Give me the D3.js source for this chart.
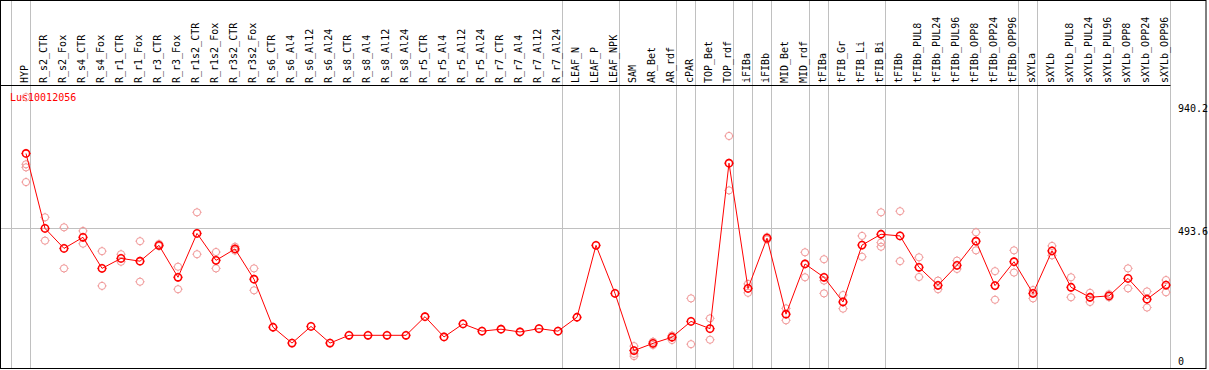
<!DOCTYPE html>
<html>
  <head>
    <title>Lus10012056</title>
    <script src="https://cdn.jsdelivr.net/npm/d3@7"></script>
    <style>
      body, html { margin: 0; padding: 0; background: #fff; }
      svg { display: block; }
      text { font-family: "DejaVu Sans Mono", monospace; font-size: 10px; }
    </style>
  </head>
  <body>
    <svg id="svg" width="1209" height="370"></svg>
    <script>
      // sample names, one column each
      const samples = ["HYP", "R_s2_CTR", "R_s2_Fox", "R_s4_CTR", "R_s4_Fox", "R_r1_CTR", "R_r1_Fox",
        "R_r3_CTR", "R_r3_Fox", "R_r1s2_CTR", "R_r1s2_Fox", "R_r3s2_CTR", "R_r3s2_Fox", "R_s6_CTR",
        "R_s6_Al4", "R_s6_Al12", "R_s6_Al24", "R_s8_CTR", "R_s8_Al4", "R_s8_Al12", "R_s8_Al24",
        "R_r5_CTR", "R_r5_Al4", "R_r5_Al12", "R_r5_Al24", "R_r7_CTR", "R_r7_Al4", "R_r7_Al12",
        "R_r7_Al24", "LEAF_N", "LEAF_P", "LEAF_NPK", "SAM", "AR_Bet", "AR_rdf", "cPAR", "TOP_Bet",
        "TOP_rdf", "iFIBa", "iFIBb", "MID_Bet", "MID_rdf", "tFIBa", "tFIB_Gr", "tFIB_Li", "tFIB_Bi",
        "tFIBb", "tFIBb_PUL8", "tFIBb_PUL24", "tFIBb_PUL96", "tFIBb_OPP8", "tFIBb_OPP24", "tFIBb_OPP96",
        "sXYLa", "sXYLb", "sXYLb_PUL8", "sXYLb_PUL24", "sXYLb_PUL96", "sXYLb_OPP8", "sXYLb_OPP24",
        "sXYLb_OPP96"];

      // mean expression per sample
      const means = [762, 492, 420, 460, 348, 384, 374, 431, 316, 474, 377, 418, 309, 136,
        79, 139, 79, 107, 107, 107, 107, 174, 101, 148, 122, 129, 119, 131, 122, 172, 431, 258,
        52, 78, 100, 157, 131, 727, 276, 457, 183, 364, 316, 227, 432, 471, 465, 352, 287, 359,
        446, 286, 372, 258, 411, 280, 244, 249, 312, 237, 288];

      // replicate values (empty where only one sample)
      const reps = [[965, 723, 712, 659], [532, 448], [496, 348], [483, 437], [410, 285],
        [399, 372], [446, 300], [436, 428], [354, 273], [550, 399], [407, 348], [426, 412],
        [348, 269], [], [], [], [], [], [], [], [], [], [], [], [], [], [], [], [], [], [], [],
        [68, 40, 32], [72, 84], [90, 106], [240, 75], [168, 91], [825, 629], [292, 260],
        [461, 452], [204, 161], [406, 316], [381, 304, 258], [252, 203], [465, 390],
        [550, 441, 426], [554, 374], [388, 317], [304, 273], [376, 346], [478, 413], [338, 235],
        [413, 333], [270, 240], [429, 395], [316, 244], [260, 227], [255, 244], [348, 276],
        [265, 207], [306, 262]];

      // columns after which a grey separator is drawn
      const groupEnds = ["HYP", "R_r7_Al24", "LEAF_NPK", "AR_rdf", "cPAR", "TOP_rdf", "iFIBa",
        "iFIBb", "MID_rdf", "tFIBa", "tFIB_Bi", "tFIBb_OPP96", "sXYLa", "sXYLb_OPP96"];

      const axisTicks = [940.2, 493.6, 0];

      const svg = d3.select("#svg");
      const headerY = 85;

      const x = d3.scaleBand()
        .domain(samples)
        .range([11.5, 1170.5]);
      const px = (s) => x(s) + 14.5;

      const y = d3.scaleLinear()
        .domain([0, 940.2])
        .range([365, 104]);

      // grey separators
      svg.append("line")
        .attr("x1", x(samples[0])).attr("x2", x(samples[0]))
        .attr("y1", 0).attr("y2", 369)
        .attr("stroke", "#c0c0c0");
      svg.selectAll(".sep")
        .data(groupEnds)
        .join("line")
        .attr("x1", d => x(d) + x.step())
        .attr("x2", d => x(d) + x.step())
        .attr("y1", 0).attr("y2", 369)
        .attr("stroke", "#c0c0c0");

      // grid line at middle tick
      svg.append("line")
        .attr("x1", 1).attr("x2", 1170.5)
        .attr("y1", Math.round(y(493.6)) + 0.5).attr("y2", Math.round(y(493.6)) + 0.5)
        .attr("stroke", "#c0c0c0");

      // header line
      svg.append("line")
        .attr("x1", 0).attr("x2", 1170.5)
        .attr("y1", headerY + 0.5).attr("y2", headerY + 0.5)
        .attr("stroke", "#000");

      // frame
      svg.append("rect")
        .attr("x", 0.5).attr("y", 0.5)
        .attr("width", 1205.5).attr("height", 368)
        .attr("fill", "none")
        .attr("stroke", "#000");

      // sample labels, vertical
      svg.selectAll(".lab")
        .data(samples)
        .join("text")
        .attr("transform", d => `translate(${px(d) + 1.5},${headerY - 2}) rotate(-90)`)
        .attr("fill", "#000")
        .text(d => d);

      // right value labels
      svg.selectAll(".tick")
        .data(axisTicks)
        .join("text")
        .attr("x", 1178)
        .attr("y", d => d === 0 ? y(d) : y(d) + 7.5)
        .attr("fill", "#000")
        .text(d => d);

      svg.append("text")
        .attr("x", 10).attr("y", 101)
        .attr("fill", "red")
        .text("Lus10012056");

      // circle with four small nubs, like the original markers
      function marker(g, cx, cy, color, sw) {
        const m = g.append("g").attr("transform", `translate(${cx},${cy})`);
        m.append("circle").attr("r", 3.6).attr("fill", "none")
          .attr("stroke", color).attr("stroke-width", sw);
        [[0, -1], [0, 1], [-1, 0], [1, 0]].forEach(([a, b]) => {
          m.append("line")
            .attr("x1", a * 3.6).attr("y1", b * 3.6)
            .attr("x2", a * 4.6).attr("y2", b * 4.6)
            .attr("stroke", color).attr("stroke-width", 1);
        });
      }

      // replicates first
      const repG = svg.append("g");
      samples.forEach((s, i) => {
        reps[i].forEach(v => marker(repG, px(s), y(v), "#f09696", 1));
      });

      const linegen = d3.line()
        .x((d, i) => px(samples[i]))
        .y(d => y(d));

      svg.append("path")
        .attr("d", linegen(means))
        .attr("stroke", "red")
        .attr("stroke-width", 1)
        .attr("fill", "none");

      const meanG = svg.append("g");
      samples.forEach((s, i) => marker(meanG, px(s), y(means[i]), "red", 1.6));
    </script>
  </body>
</html>
